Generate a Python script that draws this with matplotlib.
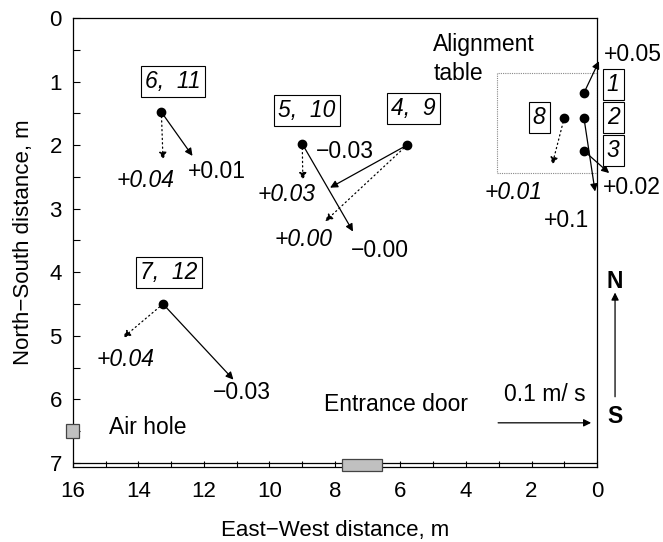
import numpy as np
import matplotlib.pyplot as plt
from matplotlib.patches import Rectangle

plt.rcParams['font.family'] = ['Liberation Sans', 'DejaVu Sans']
MINUS = '\u2212'

# measuring stations (East-West x, North-South y), metres
st_x = [13.3, 9.0, 5.8, 13.25, 0.4, 0.4, 0.4, 1.0]
st_y = [1.48, 1.98, 2.0, 4.5, 1.18, 1.57, 2.09, 1.57]

# solid arrow tips (index of station, x, y)
solid_idx = [0, 1, 2, 3, 4, 5, 6]
solid_tx = [12.35, 7.45, 8.15, 11.1, -0.06, 0.06, -0.37]
solid_ty = [2.17, 3.36, 2.67, 5.69, 0.68, 2.73, 2.44]

# dotted arrow tips
dot_idx = [0, 1, 2, 3, 7]
dot_tx = [13.25, 8.98, 8.3, 14.47, 1.37]
dot_ty = [2.23, 2.55, 3.2, 5.03, 2.31]

# vertical velocity labels
solid_lbl = ['+0.01', MINUS + '0.00', MINUS + '0.03', MINUS + '0.03', '+0.05', '+0.1', '+0.02']
solid_lx = [11.6, 6.63, 7.7, 10.85, -1.1, 0.92, -1.07]
solid_ly = [2.42, 3.66, 2.1, 5.9, 0.58, 3.18, 2.67]
dot_lbl = ['+0.04', '+0.03', '+0.00', '+0.04', '+0.01']
dot_lx = [13.77, 9.47, 8.97, 14.4, 2.56]
dot_ly = [2.55, 2.78, 3.49, 5.38, 2.75]

# boxed station numbers
box_lbl = ['6,  11', '5,  10', '4,  9', '7,  12', '1', '2', '3', '8']
box_x = [12.95, 8.85, 5.6, 13.07, -0.49, -0.49, -0.49, 1.77]
box_y = [1.0, 1.45, 1.43, 4.01, 1.05, 1.57, 2.08, 1.57]

FS = 16.5

fig = plt.figure(figsize=(6.63, 5.42), dpi=100)
ax = fig.add_axes([0.110, 0.1384, 0.7905, 0.8284])
ax.set_xlim(16, 0)
ax.set_ylim(7.065, 0)

ax.set_xticks(np.arange(0, 17, 2))
ax.set_xticks(np.arange(1, 16, 2), minor=True)
ax.set_yticks(np.arange(0, 8, 1))
ax.set_yticks(np.arange(0.5, 7, 1), minor=True)
ax.tick_params(axis='both', which='both', direction='in', labelsize=16, width=0.8)
ax.tick_params(axis='x', which='both', length=4, pad=10)
ax.tick_params(axis='y', which='both', length=5, pad=8)
for s in ax.spines.values():
    s.set_linewidth(0.9)
ax.axhline(7, color='k', lw=0.9)

ax.set_xlabel('East' + MINUS + 'West distance, m', fontsize=16, labelpad=13)
ax.set_ylabel('North' + MINUS + 'South distance, m', fontsize=16, labelpad=11)

# alignment table
ax.add_patch(Rectangle((0, 0.86), 3.05, 1.58, fill=False, ls=(0, (1, 1)),
                       lw=0.8, ec='#888888'))
ax.text(5.0, 0.645, 'Alignment\ntable', fontsize=FS, ha='left', va='center',
        linespacing=1.35)

for i, tx, ty in zip(solid_idx, solid_tx, solid_ty):
    ax.annotate('', xy=(tx, ty), xytext=(st_x[i], st_y[i]), annotation_clip=False,
                arrowprops=dict(arrowstyle='-|>', color='k', lw=0.9,
                                mutation_scale=11, shrinkA=0, shrinkB=0))
for i, tx, ty in zip(dot_idx, dot_tx, dot_ty):
    ax.annotate('', xy=(tx, ty), xytext=(st_x[i], st_y[i]),
                arrowprops=dict(arrowstyle='-|>', color='k', lw=0.9, ls=(0, (1, 2.5)),
                                mutation_scale=11, shrinkA=0, shrinkB=0))

ax.plot(st_x, st_y, 'o', color='k', ms=6, clip_on=False)

for t, x, y in zip(solid_lbl, solid_lx, solid_ly):
    ax.text(x, y, t, fontsize=FS, ha='center', va='center', clip_on=False)
for t, x, y in zip(dot_lbl, dot_lx, dot_ly):
    ax.text(x, y, t, fontsize=FS, ha='center', va='center', style='italic')
for t, x, y in zip(box_lbl, box_x, box_y):
    ax.text(x, y, t, fontsize=FS, ha='center', va='center', style='italic',
            clip_on=False,
            bbox=dict(boxstyle='square,pad=0.18', fc='white', ec='k', lw=0.8))

# scale arrow and compass
ax.annotate('', xy=(0.18, 6.37), xytext=(3.02, 6.37),
            arrowprops=dict(arrowstyle='-|>', color='k', lw=0.9,
                            mutation_scale=11, shrinkA=0, shrinkB=0))
ax.text(1.59, 5.93, '0.1 m/ s', fontsize=FS, ha='center', va='center')
ax.annotate('', xy=(-0.55, 4.32), xytext=(-0.55, 5.96), annotation_clip=False,
            arrowprops=dict(arrowstyle='-|>', color='k', lw=0.9,
                            mutation_scale=11, shrinkA=0, shrinkB=0))
ax.text(-0.55, 4.15, 'N', fontsize=FS, fontweight='bold', ha='center', va='center',
        clip_on=False)
ax.text(-0.55, 6.27, 'S', fontsize=FS, fontweight='bold', ha='center', va='center',
        clip_on=False)

# air hole and entrance door
ax.add_patch(Rectangle((16.2, 6.39), -0.4, 0.22, fc='#c0c0c0', ec='#444444',
                       lw=0.9, clip_on=False, zorder=5))
ax.text(14.9, 6.45, 'Air hole', fontsize=FS, ha='left', va='center')
ax.add_patch(Rectangle((7.79, 6.94), -1.23, 0.19, fc='#c0c0c0', ec='#444444',
                       lw=0.9, clip_on=False, zorder=5))
ax.text(6.14, 6.08, 'Entrance door', fontsize=FS, ha='center', va='center')

fig.savefig('out.png', dpi=100)
